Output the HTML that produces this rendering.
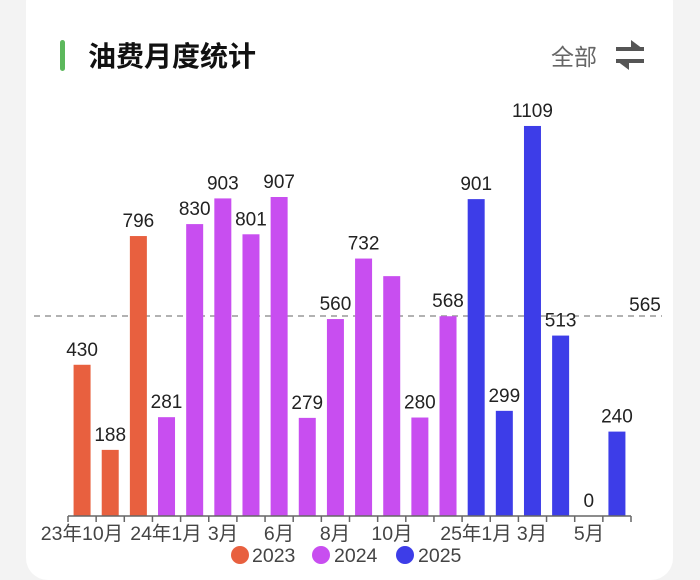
<!DOCTYPE html>
<html><head><meta charset="utf-8"><style>
html,body{margin:0;padding:0;background:#f3f3f3;width:700px;height:569px;overflow:hidden}
.card{position:absolute;left:26px;top:-20px;width:647px;height:600px;background:#fff;border-radius:22px}
svg{position:absolute;left:0;top:0}
text{font-family:"Liberation Sans","Noto Sans CJK SC",sans-serif}
</style></head><body>
<div class="card"></div>
<svg width="700" height="569" xmlns="http://www.w3.org/2000/svg">
<rect x="60" y="40" width="5" height="31" rx="2.5" fill="#5cb85c"/>
<text x="88" y="66" font-size="28" font-weight="bold" fill="#111">油费月度统计</text>
<text x="551" y="65" font-size="23" fill="#666">全部</text>
<g fill="#555">
<rect x="616" y="47" width="28" height="4"/><polygon points="631,40 643,49 631,49"/>
<rect x="616" y="59" width="28" height="4"/><polygon points="629,70 617,61 629,61"/>
</g>
<line x1="34" y1="316" x2="662" y2="316" stroke="#999" stroke-width="1.5" stroke-dasharray="6,5"/>
<text x="645" y="311" font-size="19" text-anchor="middle" fill="#222">565</text>
<g id="bars"></g>
<line x1="68" y1="516" x2="631" y2="516" stroke="#666" stroke-width="1.5"/>
<g id="ticks" stroke="#666" stroke-width="1.5"></g>
<g font-size="19.5" fill="#444" text-anchor="middle">
<text x="82" y="540">23年10月</text>
<text x="166" y="540">24年1月</text>
<text x="223" y="540">3月</text>
<text x="279" y="540">6月</text>
<text x="335" y="540">8月</text>
<text x="392" y="540">10月</text>
<text x="476" y="540">25年1月</text>
<text x="532" y="540">3月</text>
<text x="589" y="540">5月</text>
</g>
<g font-size="19.5" fill="#444">
<circle cx="240" cy="555" r="9" fill="#e8603f"/><text x="252" y="562">2023</text>
<circle cx="321" cy="555" r="9" fill="#c84ef0"/><text x="334" y="562">2024</text>
<circle cx="405" cy="555" r="9" fill="#3d3de8"/><text x="418" y="562">2025</text>
</g>
</svg>
<script>
var v=[430,188,796,281,830,903,801,907,279,560,732,682,280,568,901,299,1109,513,0,240];
var bars=document.getElementById('bars'),ticks=document.getElementById('ticks'),h='';
var s=0.3517,w=28.15;
for(var i=0;i<20;i++){
 var c=68+w*(i+0.5),col=i<3?'#e8603f':(i<14?'#c84ef0':'#3d3de8'),bh=v[i]*s,y=516-bh;
 h+='<rect x="'+(c-8.5)+'" y="'+y+'" width="17" height="'+bh+'" fill="'+col+'"/>';
 if(i!=11) h+='<text x="'+c+'" y="'+(y-9)+'" font-size="19" text-anchor="middle" fill="#222">'+v[i]+'</text>';
}
bars.innerHTML=h;
var t='';for(var i=0;i<=20;i++){var x=68+w*i;t+='<line x1="'+x+'" y1="516" x2="'+x+'" y2="522"/>';}
ticks.innerHTML=t;
</script>
</body></html>
